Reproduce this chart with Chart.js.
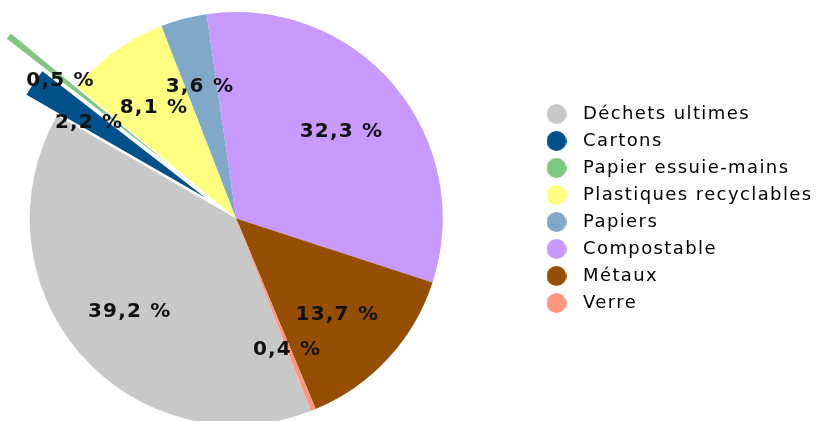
<!DOCTYPE html>
<html>
<head>
<meta charset="UTF-8">
<title>Composition des déchets</title>
<script src="https://cdn.jsdelivr.net/npm/chart.js@4.4.0/dist/chart.umd.min.js"></script>
<style>
  body { margin: 0; background: #fff; }
  #wrap { width: 822px; height: 421px; }
</style>
</head>
<body>
<div id="wrap"><canvas id="pie"></canvas></div>
<script>
// data (percent of total)
const categories = ['Déchets ultimes', 'Cartons', 'Papier essuie-mains', 'Plastiques recyclables', 'Papiers', 'Compostable', 'Métaux', 'Verre'];
const shares = [39.2, 2.2, 0.5, 8.1, 3.6, 32.3, 13.7, 0.4];
const colours = ['#c8c8c8', '#00508c', '#80c880', '#ffff80', '#80a8c8', '#c899ff', '#964f00', '#ff9680'];
const explode = [0, 37, 85, 0, 0, 0, 0, 0];   // px the slice is pulled out

const FONT = '"DejaVu Sans", Verdana, sans-serif';

// round legend markers
function dot(colour) {
    const c = document.createElement('canvas');
    c.width = 20; c.height = 20;
    const g = c.getContext('2d');
    g.fillStyle = colour;
    g.beginPath();
    g.arc(10, 10, 10, 0, Math.PI * 2);
    g.fill();
    return c;
}

// the reference text is a bit wider than DejaVu, so spread the letters
const spacing = {
    id: 'spacing',
    beforeLayout(chart) { chart.ctx.letterSpacing = '1.4px'; },
    beforeDraw(chart) { chart.ctx.letterSpacing = '1.4px'; }
};

// move the legend to where it sits in the reference
const legendPlace = {
    id: 'legendPlace',
    afterLayout(chart) {
        const lg = chart.legend;
        const dx = 530 - lg.left;
        const dy = 96 - lg.top;
        lg.left += dx; lg.right += dx;
        lg.top += dy; lg.bottom += dy;
    }
};

// Chart.js "offset" also shrinks thin slices, so pull slices out by a plain translate
const explodeSlices = {
    id: 'explodeSlices',
    beforeDatasetsDraw(chart) {
        chart.getDatasetMeta(0).data.forEach((arc, i) => {
            if (!explode[i] || arc._pulled) return;
            const draw = arc.draw;
            arc.draw = function (ctx, area) {
                const mid = (this.startAngle + this.endAngle) / 2;
                ctx.save();
                ctx.translate(Math.cos(mid) * explode[i], Math.sin(mid) * explode[i]);
                draw.call(this, ctx, area);
                ctx.restore();
            };
            arc._pulled = true;
        });
    }
};

// percentage labels inside the slices
const sliceLabels = {
    id: 'sliceLabels',
    afterDatasetsDraw(chart) {
        const ctx = chart.ctx;
        const meta = chart.getDatasetMeta(0);
        ctx.save();
        ctx.font = 'bold 20px ' + FONT;
        ctx.letterSpacing = '1.2px';
        ctx.fillStyle = '#111';
        ctx.textAlign = 'center';
        ctx.textBaseline = 'middle';
        meta.data.forEach((arc, i) => {
            const mid = (arc.startAngle + arc.endAngle) / 2;
            const r = arc.outerRadius * 0.673 + explode[i];
            const txt = shares[i].toFixed(1).replace('.', ',') + ' %';
            ctx.fillText(txt, arc.x + Math.cos(mid) * r - 1, arc.y + Math.sin(mid) * r + 2.5);
        });
        ctx.restore();
    }
};

new Chart(document.getElementById('pie'), {
    type: 'pie',
    data: {
        labels: categories,
        datasets: [{
            data: shares,
            backgroundColor: colours,
            borderWidth: 0,
            radius: 206.5
        }]
    },
    options: {
        responsive: true,
        maintainAspectRatio: false,
        animation: false,
        events: [],
        rotation: 158.8,
        layout: { padding: { top: 16, right: 57, bottom: 0, left: 0 } },
        plugins: {
            tooltip: { enabled: false },
            legend: {
                position: 'right',
                align: 'start',
                labels: {
                    usePointStyle: true,
                    pointStyleWidth: 35,
                    boxHeight: 18,
                    padding: 9,
                    color: '#222',
                    font: { family: FONT, size: 18 },
                    generateLabels() {
                        return categories.map((c, i) => ({
                            text: c,
                            fillStyle: colours[i],
                            strokeStyle: colours[i],
                            lineWidth: 0,
                            pointStyle: dot(colours[i]),
                            hidden: false,
                            index: i
                        }));
                    }
                }
            }
        }
    },
    plugins: [spacing, legendPlace, explodeSlices, sliceLabels]
});
</script>
</body>
</html>
